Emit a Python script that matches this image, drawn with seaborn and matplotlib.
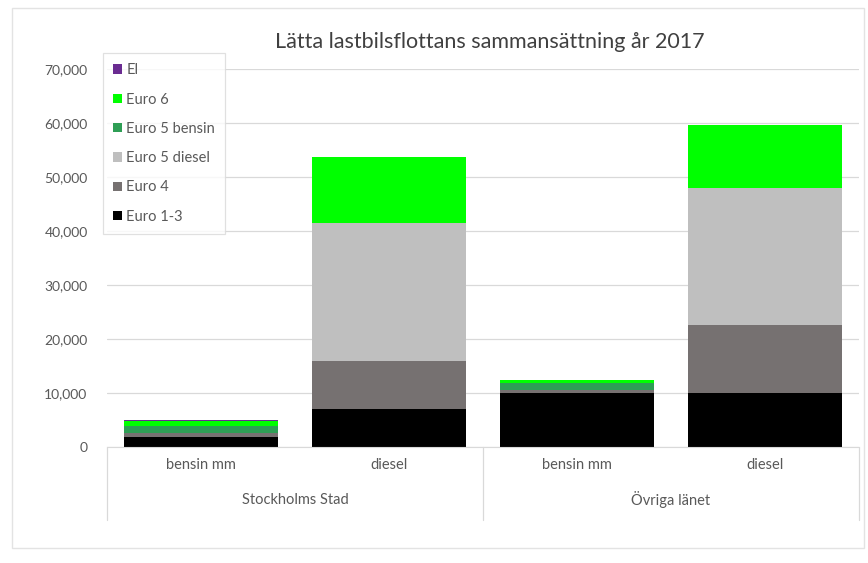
import pandas as pd
import matplotlib.pyplot as plt
import matplotlib.transforms as mtransforms
from matplotlib.patches import Rectangle, Patch
from matplotlib.ticker import FuncFormatter
import seaborn as sns

# -----------------------------
# Data
# -----------------------------
groups = ["Stockholms Stad", "Stockholms Stad", "Övriga länet", "Övriga länet"]
fuels = ["bensin mm", "diesel", "bensin mm", "diesel"]

euro_1_3 = [1850, 7000, 10000, 10000]
euro_4 = [700, 8900, 600, 12600]
euro_5_diesel = [0, 25600, 0, 25400]
euro_5_bensin = [1300, 0, 1300, 0]
euro_6 = [1000, 12200, 500, 11600]
el = [200, 0, 0, 0]

segments = ["Euro 1-3", "Euro 4", "Euro 5 diesel", "Euro 5 bensin", "Euro 6", "El"]
values = [euro_1_3, euro_4, euro_5_diesel, euro_5_bensin, euro_6, el]
colors = ["#000000", "#767171", "#BFBFBF", "#2E9E55", "#00FF00", "#6A2C91"]

keys = [g + " | " + f for g, f in zip(groups, fuels)]

df = pd.DataFrame({"key": keys})
running = [0] * len(keys)
for name, vals in zip(segments, values):
    running = [r + v for r, v in zip(running, vals)]
    df[name] = running

# -----------------------------
# Plot
# -----------------------------
sns.set_style("white")
plt.rcParams["font.family"] = ["Lato", "DejaVu Sans"]

fig = plt.figure(figsize=(8.68, 5.63), dpi=100)
ax = fig.add_axes([107 / 868, 1 - 447 / 563, (859 - 107) / 868, (447 - 69) / 563])

# stacked bars: draw cumulative totals from the top segment down
for name, col in zip(segments[::-1], colors[::-1]):
    sns.barplot(
        data=df,
        x="key",
        y=name,
        order=keys,
        color=col,
        saturation=1,
        width=0.82,
        linewidth=0,
        errorbar=None,
        ax=ax,
    )

ax.set_ylim(0, 70000)
ax.set_yticks(range(0, 70001, 10000))
ax.yaxis.set_major_formatter(FuncFormatter(lambda v, p: f"{v:,.0f}"))
ax.yaxis.grid(True, color="#D9D9D9", linewidth=0.9)
ax.set_axisbelow(True)

for s in ["top", "right", "left"]:
    ax.spines[s].set_visible(False)
ax.spines["bottom"].set_color("#D9D9D9")

ax.set_xticks(range(len(keys)))
ax.set_xticklabels(fuels)
ax.tick_params(axis="y", length=0, pad=14, labelsize=10, labelcolor="#595959")
ax.tick_params(axis="x", length=0, pad=8, labelsize=10.5, labelcolor="#595959")
ax.set_xlabel("")
ax.set_ylabel("")

# group labels and separators under the axis
trans = mtransforms.blended_transform_factory(ax.transData, ax.transAxes)
for i, g in enumerate(["Stockholms Stad", "Övriga länet"]):
    ax.text(2 * i + 0.5, -0.14, g, transform=trans, ha="center", va="center",
            fontsize=10.5, color="#595959")
for xs in [-0.5, 1.5, 3.5]:
    ax.plot([xs, xs], [0, -0.193], transform=trans, color="#D9D9D9",
            linewidth=0.9, clip_on=False, scalex=False, scaley=False)
ax.set_xlim(-0.5, len(keys) - 0.5)

# title
fig.text(490 / 868, 1 - 42 / 563, "Lätta lastbilsflottans sammansättning år 2017",
         ha="center", va="center", fontsize=15.5, color="#404040")

# legend
handles = [Patch(facecolor=c, edgecolor="none", label=n)
           for n, c in zip(segments[::-1], colors[::-1])]
leg = fig.legend(
    handles=handles,
    loc="upper left",
    bbox_to_anchor=(103 / 868, 1 - 53 / 563),
    frameon=True,
    fontsize=10.5,
    labelspacing=1.05,
    handlelength=0.6,
    handleheight=0.6,
    handletextpad=0.3,
    borderpad=0.7,
    borderaxespad=0,
    fancybox=False,
)
leg.get_frame().set_edgecolor("#D9D9D9")
leg.get_frame().set_linewidth(0.9)
for t in leg.get_texts():
    t.set_color("#595959")

# outer chart border
fig.patches.append(Rectangle((12 / 868, 1 - 548 / 563), (864 - 12) / 868, (548 - 8) / 563,
                             transform=fig.transFigure, fill=False,
                             edgecolor="#E3E3E3", linewidth=1))

plt.savefig("out.png", dpi=100)
plt.close()
